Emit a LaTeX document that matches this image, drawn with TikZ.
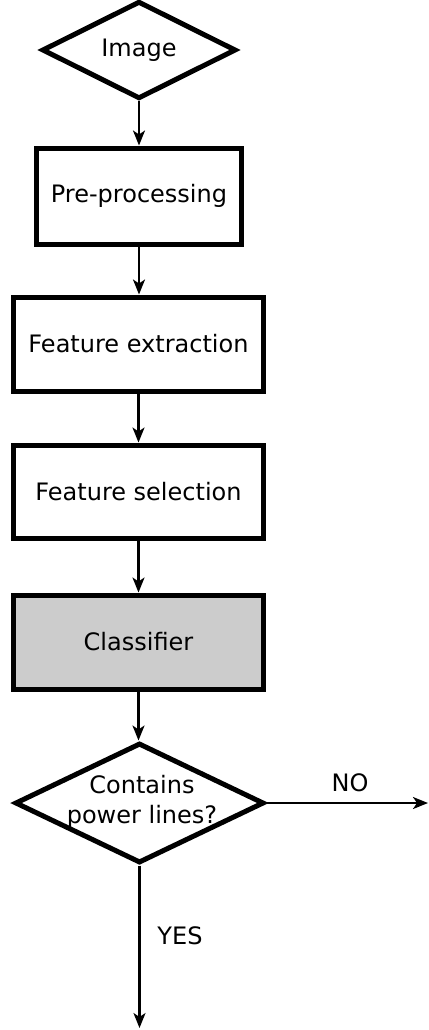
\documentclass[tikz,border=0pt]{standalone}
\usepackage{fontspec}
\setmainfont{DejaVu Sans}
\usetikzlibrary{shapes.geometric,arrows.meta}
\definecolor{clsgray}{RGB}{204,204,204}
\begin{document}
\begin{tikzpicture}[x=0.5pt,y=-0.5pt,
  font=\fontsize{12pt}{14.5pt}\selectfont,
  boxnode/.style={draw, line width=2.5pt, rectangle, inner sep=0pt, align=center},
  dianode/.style={draw, line width=2.5pt, diamond, inner sep=0pt, align=center},
  conn/.style={line width=1.1pt, -{Stealth[length=7.5pt,width=6pt,inset=2pt]}},
  lbl/.style={inner sep=0pt}]
\useasboundingbox (0,0) rectangle (429,1030);
\node[dianode, minimum width=97pt, minimum height=44.5pt] (img) at (139,50) {Image};
\node[boxnode, minimum width=102.5pt, minimum height=48pt] (pre) at (139,196) {Pre-processing};
\node[boxnode, minimum width=125pt, minimum height=47pt] (fe) at (138.5,344) {Feature extraction};
\node[boxnode, minimum width=125pt, minimum height=46.5pt] (fs) at (138.5,491.5) {Feature selection};
\node[boxnode, fill=clsgray, minimum width=125pt, minimum height=47pt] (cl) at (138.5,642) {Classifier};
\node[dianode, minimum width=124.5pt, minimum height=60pt] (dec) at (139.5,803) {};
\node[lbl, align=center, font=\fontsize{12pt}{15pt}\selectfont] (dectext) at (142,802) {Contains\\power lines?};
\coordinate (noend) at (428,803);
\coordinate (yesend) at (139.5,1028);
\draw[conn] (img.south) -- (pre.north);
\draw[conn] (pre.south) -- (fe.north -| pre.south);
\draw[conn] (fe.south) -- (fs.north);
\draw[conn] (fs.south) -- (cl.north);
\draw[conn] (cl.south) -- (dec.north -| cl.south);
\draw[conn] (dec.east) -- (noend);
\draw[conn] (dec.south) -- (yesend);
\node[lbl] (nolbl) at (350,783) {NO};
\node[lbl] (yeslbl) at (180,936) {YES};
\end{tikzpicture}
\end{document}
